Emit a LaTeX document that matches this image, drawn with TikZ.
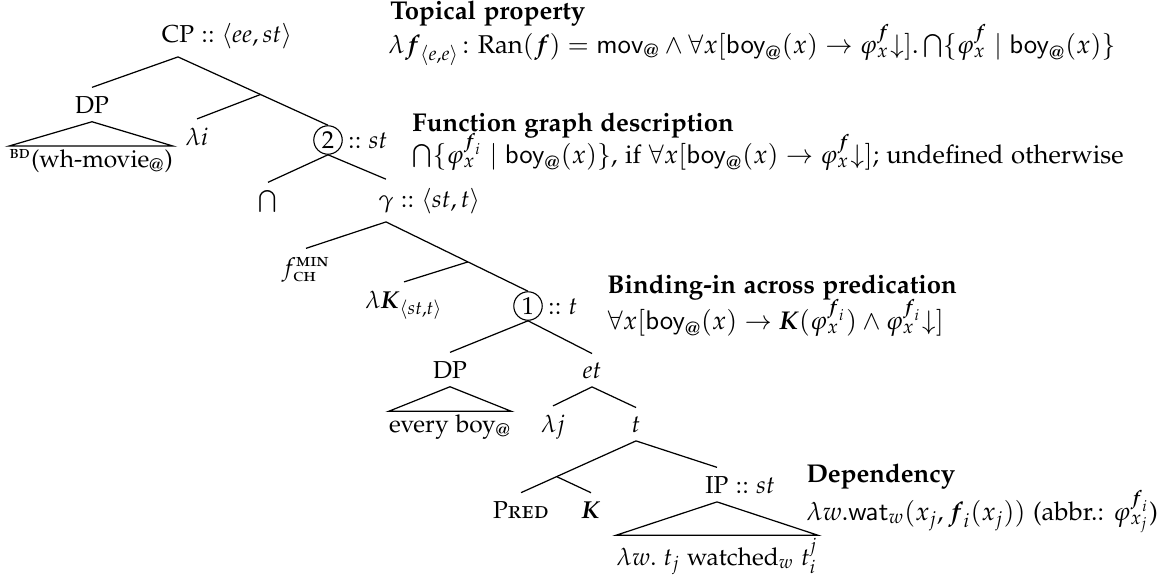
\documentclass[tikz,border=0pt]{standalone}
\usepackage[T1]{fontenc}
\usepackage[sc]{mathpazo}
\usepackage[scaled=0.88]{helvet}
\usepackage{amsmath}
\usepackage{amssymb}
\usetikzlibrary{calc}

\begin{document}
\begin{tikzpicture}[x=0.408pt, y=-0.408pt,
    lbl/.style={anchor=base},
    circnum/.style={circle, draw, inner sep=1.1pt, line width=0.45pt},
    typ/.style={anchor=base west, inner xsep=2pt, inner ysep=0pt},
    roof/.style={anchor=base, inner xsep=0pt, inner ysep=1pt},
    note/.style={anchor=base west, inner sep=0pt, font=\fontsize{10.5}{12.6}\selectfont},
    branch/.style={line width=0.5pt}]
    \useasboundingbox (0,0) rectangle (1165,586);

    % Upper part of the tree
    \node[lbl] (cp) at (178,42) {CP\rlap{ $::\langle ee,st\rangle$}};
    \node[lbl] (dp1) at (92,113) {DP};
    \node[roof] (wh) at (91,167) {\textsuperscript{\textsc{bd}}(wh-movie$_{@}$)};
    \node[lbl] (lami) at (197,145) {$\lambda i$};
    \node[circnum] (two) at (328,140) {2};
    \node[typ] (twotype) at (two.base -| two.east) {$::st$};
    \node (cap) at (268,202) {$\bigcap$};
    \node[lbl] (gam) at (386,207) {$\gamma$\rlap{ $::\langle st,t\rangle$}};
    \node[lbl] (fch) at (306,275) {$f^{\text{\textsc{min}}}_{\text{\textsc{ch}}}$};
    \node[lbl] (lamk) at (404,308) {$\lambda\boldsymbol{K}_{\langle st,t\rangle}$};
    \node[circnum] (one) at (528,306) {1};
    \node[typ] (onetype) at (one.base -| one.east) {$::t$};

    % Lower part of the tree
    \node[lbl] (dp2) at (450,378) {DP};
    \node[roof] (boy) at (450,432) {every boy$_{@}$};
    \node[lbl] (et) at (592,378) {$et$};
    \node[lbl] (lamj) at (553,432) {$\lambda j$};
    \node[lbl] (tt) at (636,432) {$t$};
    \node[lbl] (pred) at (521,518) {\textsc{Pred}};
    \node[lbl] (kk) at (591,518) {$\boldsymbol{K}$};
    \node[lbl] (ip) at (717,493) {IP\rlap{ $::st$}};
    \node[roof] (watch) at (717,565) {$\lambda w.\ t_j$ watched$_w$ $t^j_i$};

    % Branching points
    \coordinate (cpbar) at ($(cp.south)!0.55!(two.north)$);
    \coordinate (gbar) at ($(gam.south)!0.577!(one.north)$);
    \coordinate (tbar) at ($(tt.south)!0.69!(pred.north)$);

    % Branches
    \draw[branch] (cp.south) -- (dp1.north);
    \draw[branch] (cp.south) -- (two.north);
    \draw[branch] (cpbar) -- (lami.north);
    \draw[branch] (two.south) -- (cap.north);
    \draw[branch] (two.south) -- (gam.north);
    \draw[branch] (gam.south) -- (fch.north);
    \draw[branch] (gam.south) -- (one.north);
    \draw[branch] (gbar) -- (lamk.north);
    \draw[branch] (one.south) -- (dp2.north);
    \draw[branch] (one.south) -- (et.north);
    \draw[branch] (et.south) -- (lamj.north);
    \draw[branch] (et.south) -- (tt.north);
    \draw[branch] (tt.south) -- (pred.north);
    \draw[branch] (tbar) -- (kk.north);
    \draw[branch] (tt.south) -- (ip.north);

    % Roofs
    \draw[branch] (dp1.south) -- (wh.north west) -- (wh.north east) -- cycle;
    \draw[branch] (dp2.south) -- (boy.north west) -- (boy.north east) -- cycle;
    \draw[branch] (ip.south) -- (watch.north west) -- (watch.north east) -- cycle;

    % Annotations
    \node[note] (topt) at (390,19) {\textbf{Topical property}};
    \node[note] (topf) at (388,53) {$\lambda\boldsymbol{f}_{\langle e,e\rangle}\colon \mathrm{Ran}(\boldsymbol{f}) = \mathsf{mov}_{\mathsf{@}} \wedge \forall x[\mathsf{boy}_{\mathsf{@}}(x) \rightarrow \varphi^{\boldsymbol{f}}_x{\downarrow}].\bigcap\{\varphi^{\boldsymbol{f}}_x \mid \mathsf{boy}_{\mathsf{@}}(x)\}$};
    \node[note] (fgt) at (412,131) {\textbf{Function graph description}};
    \node[note] (fgf) at (412,163) {$\bigcap\{\varphi^{\boldsymbol{f}_i}_x \mid \mathsf{boy}_{\mathsf{@}}(x)\}$, if $\forall x[\mathsf{boy}_{\mathsf{@}}(x) \rightarrow \varphi^{\boldsymbol{f}}_x{\downarrow}]$; undefined otherwise};
    \node[note] (bint) at (607,293) {\textbf{Binding-in across predication}};
    \node[note] (binf) at (607,329) {$\forall x[\mathsf{boy}_{\mathsf{@}}(x) \rightarrow \boldsymbol{K}(\varphi^{\boldsymbol{f}_i}_x) \wedge \varphi^{\boldsymbol{f}_i}_x{\downarrow}]$};
    \node[note] (dept) at (806,482) {\textbf{Dependency}};
    \node[note] (depf) at (806,520) {$\lambda w.\mathsf{wat}_w(x_j, \boldsymbol{f}_i(x_j))$ (abbr.: $\varphi^{\boldsymbol{f}_i}_{x_j}$)};
\end{tikzpicture}
\end{document}
